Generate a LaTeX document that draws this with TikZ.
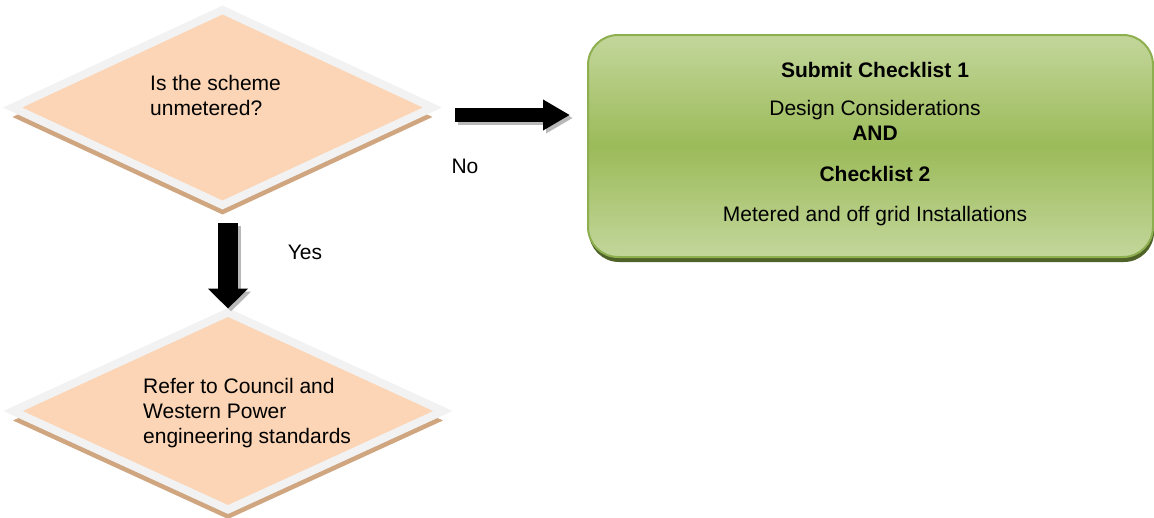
\documentclass[tikz,border=0pt]{standalone}
\usepackage{fontspec}
\setmainfont{Liberation Sans}
\usetikzlibrary{shapes.geometric,shadows,arrows.meta,calc}
\definecolor{peach}{HTML}{FBD5B5}
\definecolor{rimgray}{HTML}{F2F2F2}
\definecolor{tanshadow}{HTML}{D0A680}
\definecolor{greenlight}{HTML}{C3D69B}
\definecolor{greenmid}{HTML}{9BBB59}
\definecolor{greenline}{HTML}{8DAF4F}
\definecolor{greendark}{HTML}{4F6228}
\definecolor{arrowshadow}{HTML}{B8B8B8}
\tikzset{
  txt/.style={font=\fontsize{21}{25}\selectfont, inner sep=0pt, text=black},
  decision/.style={diamond, draw=rimgray, line width=8pt, fill=peach,
    inner sep=0pt, outer sep=0pt, miter limit=10,
    general shadow={fill=tanshadow, shadow yshift=-9.5pt}},
  actionbox/.style={rectangle, rounded corners=30pt, draw=greenline, line width=2pt,
    top color=greenlight, bottom color=greenlight, middle color=greenmid,
    inner sep=0pt, outer sep=0pt,
    general shadow={fill=greendark, shadow yshift=-5pt, shadow xshift=1pt}},
  rblock/.style={line width=14pt, -{Triangle[length=27pt,width=29pt]}},
  dblock/.style={line width=20pt, -{Triangle[length=20pt,width=39pt]}},
  arrowshade/.style={transform canvas={shift={(3pt,-3pt)}}, draw=arrowshadow, fill=arrowshadow},
}
\begin{document}
\begin{tikzpicture}[x=1pt,y=-1pt]
\useasboundingbox (0,0) rectangle (1154,517);
% shapes
\node[decision, minimum width=420pt, minimum height=195pt] (d1) at (222.5,107.5) {};
\node[decision, minimum width=430pt, minimum height=197pt] (d2) at (228,411) {};
\node[actionbox, minimum width=565pt, minimum height=222pt] (box) at (870.5,146) {};
% texts
\node[txt, anchor=west, align=left] (q1) at (150,95.5) {Is the scheme\\unmetered?};
\node[txt, anchor=west, align=left] (q2) at (143,413.5) {Refer to Council and\\Western Power\\engineering standards};
\node[txt, align=center] (boxtext) at (875,144.5)
  {\textbf{Submit Checklist 1}\\[13pt]
   Design Considerations\\
   \textbf{AND}\\[16pt]
   \textbf{Checklist 2}\\[15pt]
   Metered and off grid Installations};
\node[txt] (yes) at (305,252) {Yes};
\node[txt] (no) at (465,166) {No};
% connectors (block arrows with shadow)
\draw[rblock, arrowshade] ($(d1.east)+(22.5,7.5)$) -- ($(box.west)+(-18,-31)$);
\draw[dblock, arrowshade] ($(d1.south -| d2.north)+(0,18)$) -- ($(d2.north)+(0,-4)$);
\draw[rblock, draw=black, fill=black] ($(d1.east)+(22.5,7.5)$) -- ($(box.west)+(-18,-31)$);
\draw[dblock, draw=black, fill=black] ($(d1.south -| d2.north)+(0,18)$) -- ($(d2.north)+(0,-4)$);
\end{tikzpicture}
\end{document}
